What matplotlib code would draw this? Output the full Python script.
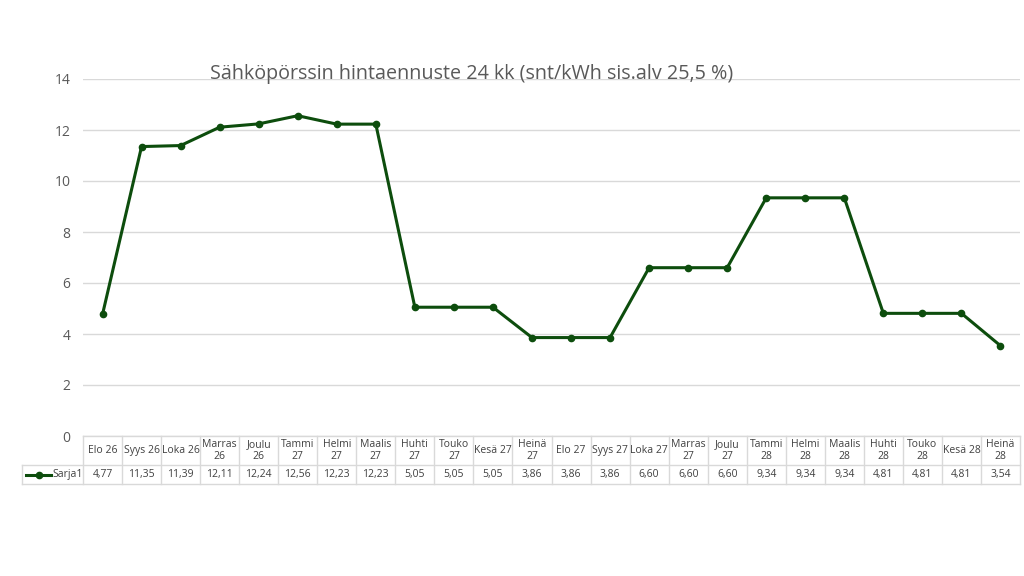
import matplotlib.pyplot as plt
import matplotlib.transforms as mtransforms
import numpy as np

plt.rcParams['font.family'] = ['Open Sans', 'DejaVu Sans']

months = ['Elo 26', 'Syys 26', 'Loka 26', 'Marras\n26', 'Joulu\n26', 'Tammi\n27',
          'Helmi\n27', 'Maalis\n27', 'Huhti\n27', 'Touko\n27', 'Kesä 27', 'Heinä\n27',
          'Elo 27', 'Syys 27', 'Loka 27', 'Marras\n27', 'Joulu\n27', 'Tammi\n28',
          'Helmi\n28', 'Maalis\n28', 'Huhti\n28', 'Touko\n28', 'Kesä 28', 'Heinä\n28']
prices = [4.77, 11.35, 11.39, 12.11, 12.24, 12.56, 12.23, 12.23, 5.05, 5.05, 5.05, 3.86,
          3.86, 3.86, 6.60, 6.60, 6.60, 9.34, 9.34, 9.34, 4.81, 4.81, 4.81, 3.54]
series_name = 'Sarja1'
title = 'Sähköpörssin hintaennuste 24 kk (snt/kWh sis.alv 25,5 %)'

green = '#0d4d0d'
grid_c = '#d9d9d9'
txt_c = '#595959'

fig = plt.figure(figsize=(10.24, 5.76), dpi=100)
ax = fig.add_axes([83 / 1024, 1 - 436 / 576, 937 / 1024, 357 / 576])

x = np.arange(len(prices))
ax.plot(x, prices, color=green, lw=2.2, marker='o', ms=4.5, zorder=3)

ax.set_xlim(-0.5, len(prices) - 0.5)
ax.set_ylim(0, 14)
ax.set_yticks(range(0, 15, 2))
ax.yaxis.grid(True, color=grid_c, lw=1)
ax.set_axisbelow(True)
ax.set_xticks([])
for s in ax.spines.values():
    s.set_visible(False)
ax.tick_params(axis='y', length=0, labelsize=10, labelcolor=txt_c, pad=9)

fig.text(472 / 1024, 1 - 74 / 576, title, ha='center', va='center',
         fontsize=14.2, color=txt_c)

# data table below the plot
trans = mtransforms.blended_transform_factory(ax.transData, ax.transAxes)
h_top, h_mid, h_bot = 0.0, -29 / 357, -48 / 357
legend_left = -0.5 - 61 / 39
n = len(prices)
line_kw = dict(color=grid_c, lw=1, transform=trans, clip_on=False)
ax.plot([-0.5, n - 0.5], [h_top, h_top], **line_kw)
ax.plot([legend_left, n - 0.5], [h_mid, h_mid], **line_kw)
ax.plot([legend_left, n - 0.5], [h_bot, h_bot], **line_kw)
ax.plot([legend_left, legend_left], [h_mid, h_bot], **line_kw)
for i in range(n + 1):
    ax.plot([i - 0.5, i - 0.5], [h_top, h_bot], **line_kw)

for i, (m, p) in enumerate(zip(months, prices)):
    ax.text(i, (h_top + h_mid) / 2, m, transform=trans, ha='center', va='center',
            fontsize=7.5, color='#404040', linespacing=1.1)
    ax.text(i, (h_mid + h_bot) / 2, f'{p:.2f}'.replace('.', ','), transform=trans,
            ha='center', va='center', fontsize=7.5, color='#404040')

# legend key in the table
ly = (h_mid + h_bot) / 2
ax.plot([legend_left + 0.1, legend_left + 0.75], [ly, ly], color=green, lw=2.2,
        transform=trans, clip_on=False)
ax.plot([legend_left + 0.425], [ly], color=green, marker='o', ms=4.5,
        transform=trans, clip_on=False)
ax.text(legend_left + 0.78, ly, series_name, transform=trans, ha='left', va='center',
        fontsize=7.5, color='#404040')

fig.savefig('out.png', dpi=100, facecolor='white')
